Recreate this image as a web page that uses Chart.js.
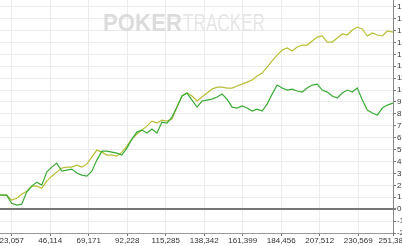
<!DOCTYPE html>
<html>
<head>
<meta charset="utf-8">
<script src="https://cdn.jsdelivr.net/npm/chart.js@4"></script>
<style>
html, body { margin: 0; padding: 0; background: #fff; overflow: hidden; }
</style>
</head>
<body>
<canvas id="myChart" width="402" height="246"></canvas>
<script>
// hands played (x) and winnings (y)
const hands = [16000, 20000, 23000, 26000, 29000, 32000, 35000, 38000, 41000, 44000,
    47000, 50000, 53000, 56000, 59000, 62000, 65000, 68000, 71000, 74000,
    77000, 80000, 83000, 86000, 89000, 92000, 95000, 98000, 101000, 104000,
    107000, 110000, 113000, 116000, 119000, 122000, 125000, 128000, 131000, 134000,
    137000, 140000, 143000, 146000, 149000, 152000, 155000, 158000, 161000, 164000,
    167000, 170000, 173000, 176000, 179000, 182000, 185000, 188000, 191000, 194000,
    197000, 200000, 203000, 206000, 209000, 212000, 215000, 218000, 221000, 224000,
    227000, 230000, 233000, 236000, 239000, 242000, 245000, 248000, 251385];

const allWinnings = [1180, 1180, 760, 920, 1260, 1510, 1930, 1930, 1760, 2350,
    2770, 3110, 3450, 3530, 3530, 3700, 3530, 3780, 4370, 4960,
    4790, 4540, 4540, 4450, 4790, 5290, 5880, 6300, 6640, 6970,
    7390, 7230, 7480, 7390, 7560, 8570, 9500, 9750, 9500, 9080,
    9410, 9750, 10080, 10250, 10250, 10170, 10170, 10340, 10500, 10670,
    10840, 11180, 11430, 11930, 12440, 12940, 13360, 13530, 13280, 13610,
    13780, 13780, 14120, 14450, 14540, 14030, 14030, 14370, 14710, 14620,
    15040, 15290, 15130, 14540, 14790, 14620, 14540, 14960, 14870];

const netWon = [1180, 1180, 500, 340, 420, 1430, 1930, 2270, 2020, 3110,
    3530, 3870, 3190, 3280, 3360, 3030, 2860, 2770, 3190, 4120,
    4870, 4870, 4790, 4710, 4540, 5130, 5880, 6470, 6640, 6390,
    6720, 6390, 7310, 7230, 7730, 8570, 9500, 9750, 9160, 8570,
    9080, 9160, 9240, 9410, 9660, 9240, 8570, 8490, 8660, 8490,
    8240, 8400, 8240, 8820, 9660, 10420, 10170, 10000, 10080, 9920,
    9830, 10170, 10420, 10500, 10000, 9830, 9500, 9330, 9750, 10000,
    9830, 10170, 9160, 8320, 8070, 7900, 8490, 8740, 8910];

const xTicks = [23057, 46114, 69171, 92228, 115285, 138342, 161399, 184456, 207512, 230569, 251385];
const yTicks = [-2000, -1000, 0, 1000, 2000, 3000, 4000, 5000, 6000, 7000, 8000, 9000,
    10000, 11000, 12000, 13000, 14000, 15000, 16000, 17000];

const pts = arr => arr.map((v, i) => ({x: hands[i], y: v}));

function drawWord(c, text, font, color, x, y, w) {
    c.font = font;
    c.fillStyle = color;
    const m = c.measureText(text).width;
    c.save();
    c.translate(x, y);
    c.scale(w / m, 1);
    c.fillText(text, 0, 0);
    c.restore();
}

const watermark = {
    id: 'watermark',
    beforeDatasetsDraw(chart) {
        const c = chart.ctx;
        c.save();
        c.textBaseline = 'alphabetic';
        drawWord(c, 'POKER', 'bold 24px "Liberation Sans"', '#dcdcdc', 103, 31, 79);
        drawWord(c, 'TRACKER', '24px "Liberation Sans"', '#e6e6e6', 183, 31, 82);
        c.restore();
    }
};

const ctx = document.getElementById('myChart');
const PLOT = new Chart(ctx, {
    type: 'line',
    data: {
        datasets: [{
            label: 'Net Won',
            data: pts(netWon),
            borderColor: '#3aab36',
            borderWidth: 1.2,
            pointRadius: 0,
            tension: 0
        },{
            label: 'All-in EV',
            data: pts(allWinnings),
            borderColor: '#b9be35',
            borderWidth: 1.2,
            pointRadius: 0,
            tension: 0
        }]
    },
    options: {
        responsive: false,
        devicePixelRatio: 1,
        animation: false,
        layout: { padding: 0 },
        plugins: { legend: { display: false }, tooltip: { enabled: false } },
        scales: {
            x: {
                type: 'linear',
                min: 16000,
                max: 251385,
                afterBuildTicks: s => { s.ticks = xTicks.map(v => ({value: v})); },
                afterFit: s => { s.height = 13; s.paddingLeft = 0; s.paddingRight = 0; },
                ticks: {
                    autoSkip: false, maxRotation: 0, color: '#333', padding: 0,
                    font: { family: '"Liberation Sans"', size: 8 },
                    callback: v => v.toLocaleString('en-US')
                },
                grid: { color: '#ececec', tickColor: '#777', tickLength: 3 },
                border: { color: '#999' }
            },
            y: {
                position: 'right',
                min: -2000,
                max: 17560,
                afterBuildTicks: s => { s.ticks = yTicks.map(v => ({value: v})); },
                afterFit: s => { s.width = 9; s.paddingTop = 0; s.paddingBottom = 0; },
                ticks: {
                    autoSkip: false, color: '#333', padding: 1,
                    font: { family: '"Liberation Sans"', size: 8 },
                    callback: v => v.toLocaleString('en-US')
                },
                grid: {
                    color: c => c.tick && c.tick.value === 0 ? '#777' : '#ececec',
                    lineWidth: c => c.tick && c.tick.value === 0 ? 2 : 1,
                    tickColor: '#777',
                    tickLength: 3
                },
                border: { color: '#888' }
            }
        }
    },
    plugins: [watermark]
});
</script>
</body>
</html>
